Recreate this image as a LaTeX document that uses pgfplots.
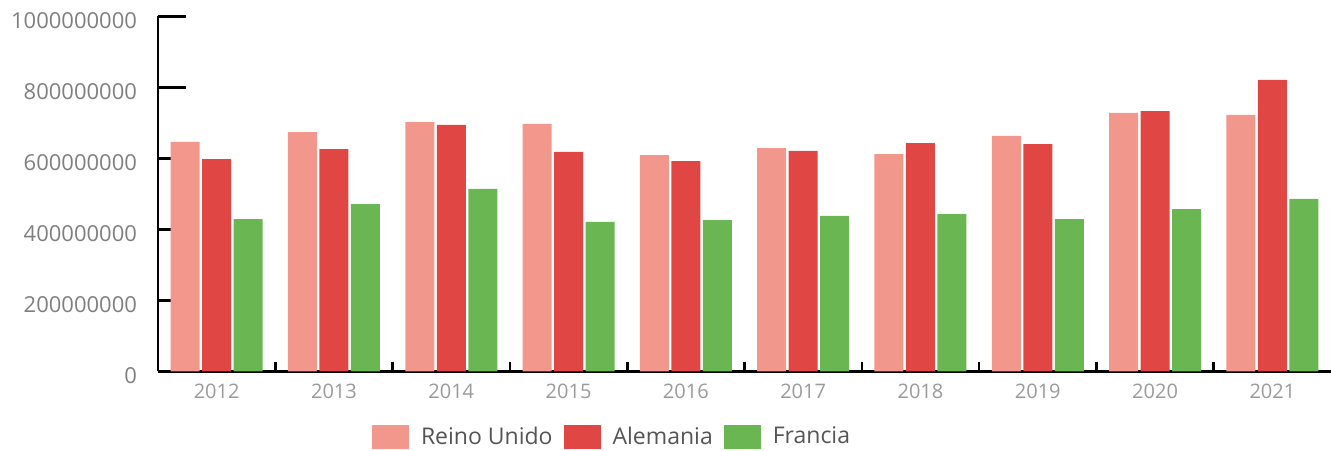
\documentclass[border=0pt]{standalone}
\usepackage{pgfplots}
\pgfplotsset{compat=1.18}
\usepackage{pgfplotstable}
\usepackage{fontspec}
\setmainfont{Open Sans}

\definecolor{colRU}{HTML}{F2978B}
\definecolor{colDE}{HTML}{E04644}
\definecolor{colFR}{HTML}{6AB652}
\definecolor{ytxt}{HTML}{7F7F7F}
\definecolor{xtxt}{HTML}{9A9A9A}
\definecolor{legtxt}{HTML}{555555}

% year index, Reino Unido, Alemania, Francia
\pgfplotstableread{
x ru de fr
0 646000000 598000000 429000000
1 674000000 626000000 471000000
2 702000000 694000000 514000000
3 697000000 618000000 421000000
4 609000000 592000000 426000000
5 629000000 621000000 438000000
6 612000000 643000000 443000000
7 663000000 640000000 429000000
8 728000000 733000000 457000000
9 722000000 821000000 486000000
}\datos

\begin{document}
\begin{tikzpicture}
\begin{axis}[
    scale only axis,
    width=586.5pt, height=177.5pt,
    ybar=1.25pt, bar width=14.5pt,
    xmin=-0.5, xmax=9.5, enlarge x limits=false,
    ymin=0, ymax=1000000000,
    axis x line=bottom, axis y line=left,
    axis line style={-, black, line width=1.3pt},
    tick align=inside, xtick pos=bottom, ytick pos=left,
    xtick={0,...,9},
    xticklabels={2012,2013,2014,2015,2016,2017,2018,2019,2020,2021},
    minor xtick={0.5,1.5,...,8.5},
    major x tick style={draw=none},
    minor x tick style={black, line width=1.3pt},
    minor tick length=4.5pt,
    major tick length=14pt,
    ytick={0,200000000,400000000,600000000,800000000,1000000000},
    ytick style={black, line width=1.3pt},
    scaled y ticks=false,
    yticklabel style={/pgf/number format/fixed, /pgf/number format/1000 sep={},
        /pgf/number format/assume math mode=true,
        font=\fontsize{11}{13}\selectfont, text=ytxt, xshift=-7pt, yshift=-2pt},
    xticklabel style={font=\fontsize{10}{12}\selectfont, text=xtxt, yshift=-3pt},
    legend style={at={(0.177,-0.185)}, anchor=west, draw=none, fill=none,
        legend columns=-1, font=\fontsize{11.5}{13}\selectfont, text=legtxt,
        /tikz/every odd column/.append style={column sep=4pt},
        /tikz/every even column/.append style={column sep=3.5pt}},
    legend image code/.code={\fill[#1] (0pt,-6pt) rectangle (18.5pt,6pt);},
]
\addplot[fill=colRU, draw=none] table[x=x, y=ru] {\datos};
\addlegendentry{Reino Unido}
\addplot[fill=colDE, draw=none] table[x=x, y=de] {\datos};
\addlegendentry{Alemania}
\addplot[fill=colFR, draw=none] table[x=x, y=fr] {\datos};
\addlegendentry{Francia}
\end{axis}
\pgfresetboundingbox
\path[use as bounding box] (-79pt,-39.35pt) rectangle (586.5pt,185.65pt);
\end{tikzpicture}
\end{document}
